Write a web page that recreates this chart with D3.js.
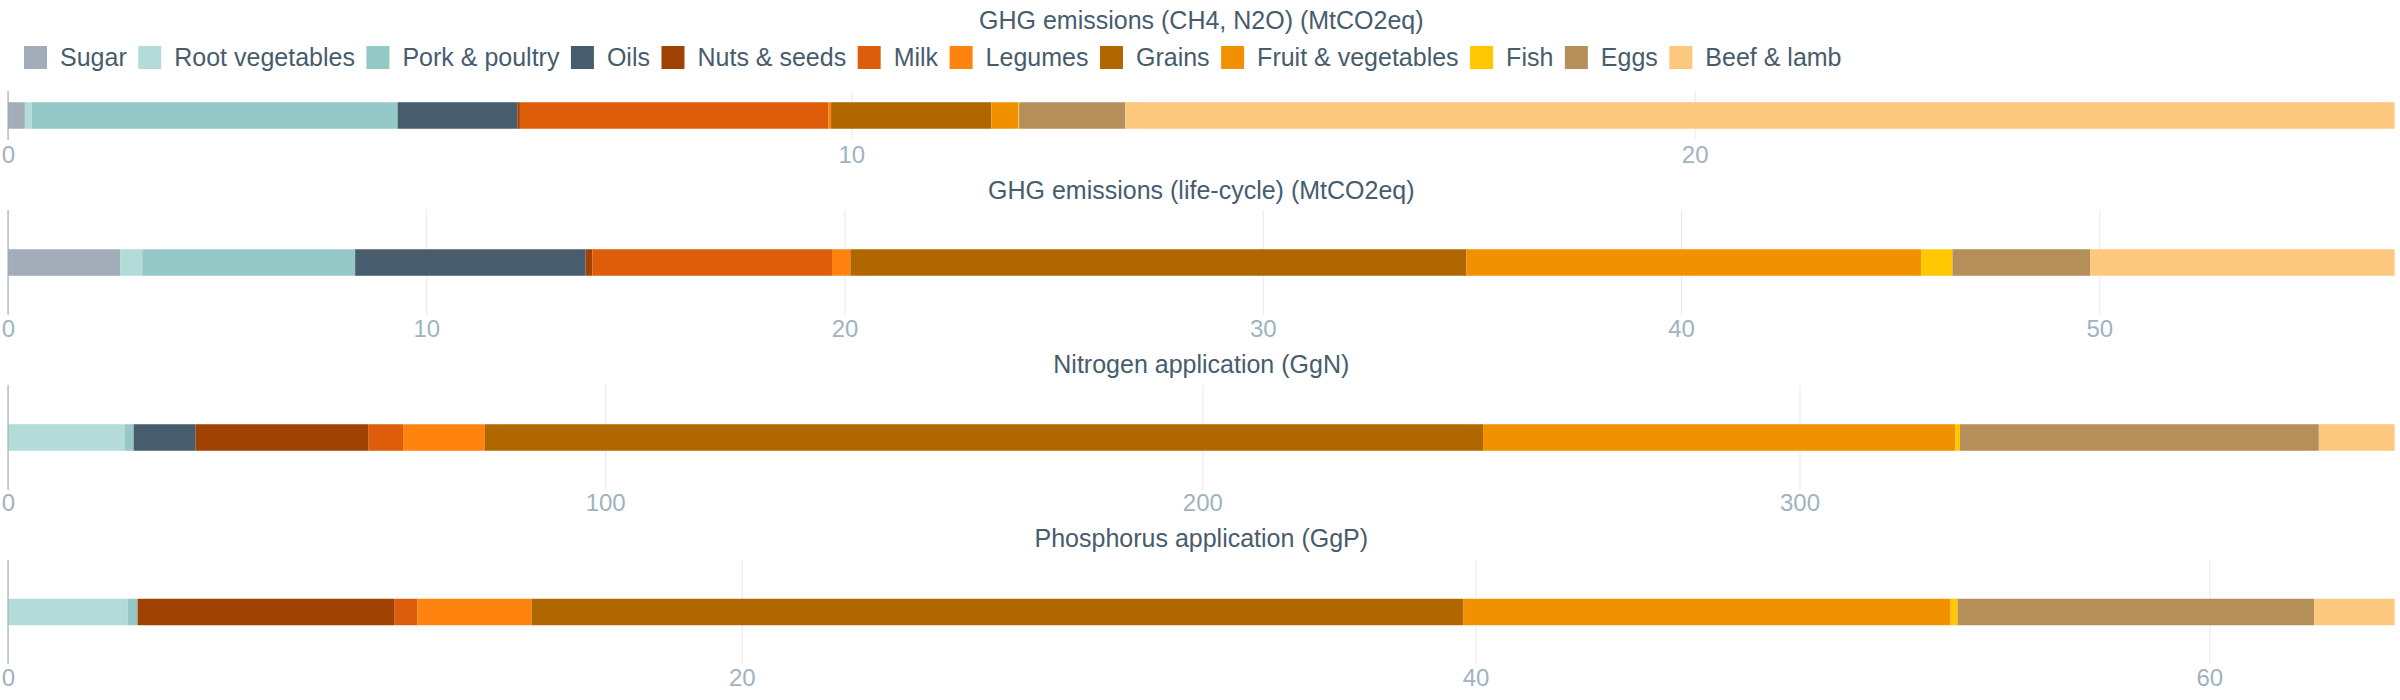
<!DOCTYPE html>
<html>
<head>
<meta charset="utf-8">
<script src="https://cdn.jsdelivr.net/npm/d3@7"></script>
<style>
  html, body { margin: 0; padding: 0; background: #fff; }
  svg { display: block; font-family: "Liberation Sans", Arial, Helvetica, sans-serif; }
</style>
</head>
<body>
<svg id="chart" width="2400" height="700"></svg>
<script>
// ---- data ----
const categories = ["Sugar", "Root vegetables", "Pork & poultry", "Oils", "Nuts & seeds", "Milk",
  "Legumes", "Grains", "Fruit & vegetables", "Fish", "Eggs", "Beef & lamb"];
const colors = ["#a2adb9", "#b3dbd8", "#94c9c7", "#475c6d", "#a04204", "#de5d0a",
  "#fe840f", "#b06700", "#f29100", "#fec700", "#b58f5a", "#fbc87d"];

const titles = ["GHG emissions (CH4, N2O) (MtCO2eq)", "GHG emissions (life-cycle) (MtCO2eq)",
  "Nitrogen application (GgN)", "Phosphorus application (GgP)"];

const ghgDirect    = [0.20, 0.08, 4.34, 1.42, 0.03, 3.66, 0.03, 1.90, 0.32, 0.01, 1.26, 15.05];
const ghgLifecycle = [2.68, 0.53, 5.09, 5.51, 0.16, 5.73, 0.44, 14.73, 10.87, 0.75, 3.29, 7.28];
const nitrogen     = [0, 19.5, 1.54, 10.38, 28.97, 5.76, 13.72, 167.14, 79.07, 0.79, 60.09, 12.69];
const phosphorus   = [0, 3.26, 0.27, 0, 7.01, 0.62, 3.11, 25.39, 13.29, 0.19, 9.72, 2.19];

const ticksDirect    = [0, 10, 20];
const ticksLifecycle = [0, 10, 20, 30, 40, 50];
const ticksNitrogen  = [0, 100, 200, 300];
const ticksPhosphorus = [0, 20, 40, 60];

// ---- layout ----
const svg = d3.select("#chart");
const X0 = 8, X1 = 2394.6;
const textColor = "#475c6d";
const tickColor = "#9fb3c0";
const gridColor = "#e6e9ec";

const panels = [
  { title: titles[0], values: ghgDirect, ticks: ticksDirect, titleY: 29, top: 91, bottom: 140, labelY: 23 },
  { title: titles[1], values: ghgLifecycle, ticks: ticksLifecycle, titleY: 199, top: 210, bottom: 315, labelY: 21.5 },
  { title: titles[2], values: nitrogen, ticks: ticksNitrogen, titleY: 373, top: 385, bottom: 490, labelY: 21 },
  { title: titles[3], values: phosphorus, ticks: ticksPhosphorus, titleY: 547, top: 560, bottom: 664, labelY: 21.5 }
];

const color = d3.scaleOrdinal().domain(categories).range(colors);

// legend
const legend = svg.append("g").attr("class", "legend");
let lx = 24;
categories.forEach((c) => {
  const g = legend.append("g").attr("transform", `translate(${lx},0)`);
  g.append("rect").attr("x", 0).attr("y", 46).attr("width", 23).attr("height", 23).attr("fill", color(c));
  const t = g.append("text").attr("x", 36).attr("y", 66.2)
    .attr("font-size", 25).attr("fill", textColor).text(c);
  const w = t.node().getComputedTextLength();
  lx += 36 + w + 11.5;
});

panels.forEach((p) => {
  const total = d3.sum(p.values);
  const x = d3.scaleLinear().domain([0, total]).range([X0, X1]);
  const h = p.bottom - p.top;
  const barH = 26.5;
  const y = d3.scaleBand().domain([p.title]).range([p.top, p.bottom])
    .paddingInner(0).paddingOuter((h / barH - 1) / 2);

  const g = svg.append("g");

  // title
  g.append("text").attr("x", (X0 + X1) / 2).attr("y", p.titleY)
    .attr("text-anchor", "middle").attr("font-size", 25).attr("fill", textColor)
    .text(p.title);

  // grid + axis
  const axis = d3.axisBottom(x).tickValues(p.ticks).tickSize(-h).tickPadding(0).tickFormat(d3.format("d"));
  const ax = g.append("g").attr("transform", `translate(0,${p.bottom})`).call(axis);
  ax.select(".domain").remove();
  ax.selectAll(".tick line").attr("stroke", gridColor).attr("stroke-width", 1);
  ax.selectAll(".tick text").attr("font-size", 24).attr("fill", tickColor)
    .attr("font-family", "\"Liberation Sans\", Arial, sans-serif")
    .attr("dy", null).attr("y", p.labelY);

  // stacked segments
  const stackData = [Object.fromEntries(categories.map((c, i) => [c, p.values[i]]))];
  const series = d3.stack().keys(categories)(stackData);
  g.append("g").selectAll("rect").data(series).join("rect")
    .attr("x", (s) => x(s[0][0]))
    .attr("width", (s) => Math.max(0, x(s[0][1]) - x(s[0][0])))
    .attr("y", y(p.title))
    .attr("height", y.bandwidth())
    .attr("fill", (s) => color(s.key));

  // zero axis line (y-domain)
  g.append("line").attr("x1", x(0)).attr("x2", x(0)).attr("y1", p.top).attr("y2", p.bottom)
    .attr("stroke", "#9aa7b0").attr("stroke-width", 1);
});
</script>
</body>
</html>
